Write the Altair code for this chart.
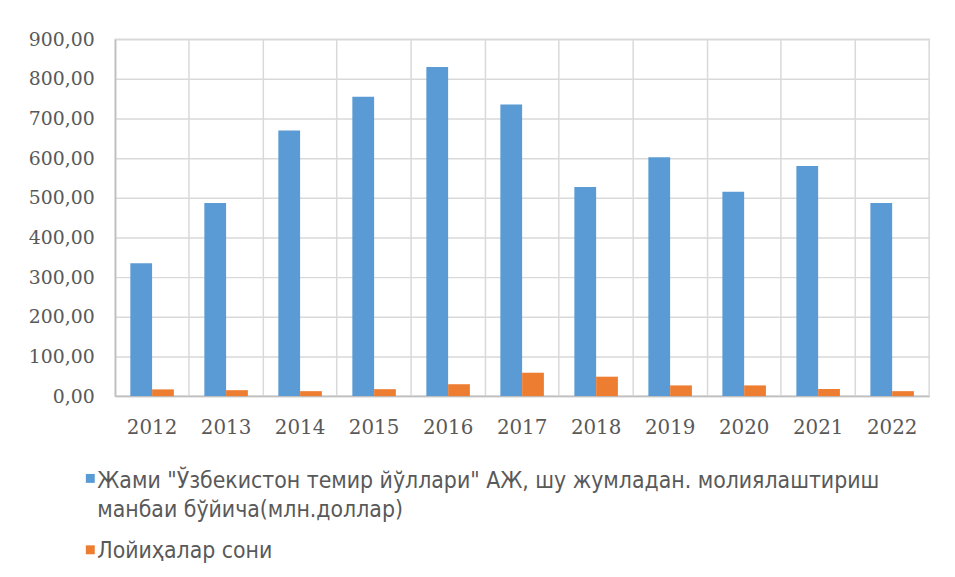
import altair as alt
import pandas as pd

years = ["2012", "2013", "2014", "2015", "2016", "2017", "2018", "2019", "2020", "2021", "2022"]
investment = [335, 487, 670, 755, 830, 735, 527, 602, 515, 580, 487]
projects = [17, 15, 12.5, 17.5, 30, 59, 49, 27, 27, 18, 12.5]
series_names = [
    "Жами \"Ўзбекистон темир йўллари\" АЖ, шу жумладан. молиялаштириш манбаи бўйича(млн.доллар)",
    "Лойиҳалар сони",
]
legend_line1 = "Жами \"Ўзбекистон темир йўллари\" АЖ, шу жумладан. молиялаштириш"
legend_line2 = "манбаи бўйича(млн.доллар)"
colors = ["#5b9bd5", "#ed7d31"]
y_ticks = [0, 100, 200, 300, 400, 500, 600, 700, 800, 900]

rows = []
for y, a, b in zip(years, investment, projects):
    rows.append({"year": y, "series": series_names[0], "value": a})
    rows.append({"year": y, "series": series_names[1], "value": b})
df = pd.DataFrame(rows)

TXT = "#595959"
GRID = "#d9d9d9"
TICK_FONT = "DejaVu Serif"
LEG_FONT = "Liberation Sans Narrow, DejaVu Sans Condensed, sans-serif"

color_scale = alt.Scale(domain=series_names, range=colors)

bars = alt.Chart(df).mark_bar().encode(
    x=alt.X("year:N", sort=years, title=None,
            scale=alt.Scale(paddingInner=0, paddingOuter=0),
            axis=alt.Axis(labelFont=TICK_FONT, labelFontSize=20, labelColor=TXT,
                          labelPadding=22, labelAngle=0, ticks=False,
                          domainColor="#bfbfbf", domainWidth=1.5,
                          grid=True, gridColor=GRID, gridWidth=1.5, bandPosition=0)),
    xOffset=alt.XOffset("series:N", sort=series_names,
                        scale=alt.Scale(domain=series_names, paddingInner=0, paddingOuter=0.7)),
    y=alt.Y("value:Q", title=None,
            scale=alt.Scale(domain=[0, 900], nice=False),
            axis=alt.Axis(values=y_ticks,
                          labelExpr="replace(format(datum.value, '.2f'), '.', ',')",
                          labelFont=TICK_FONT, labelFontSize=19, labelColor=TXT,
                          labelPadding=21, ticks=False,
                          domainColor="#bfbfbf", domainWidth=1.5,
                          grid=True, gridColor=GRID, gridWidth=1.5)),
    color=alt.Color("series:N", scale=color_scale, legend=None),
)

def leg_symbol(name, ypix):
    return alt.Chart(pd.DataFrame({"series": [name]})).mark_square(size=81, opacity=1).encode(
        x=alt.value(-25), y=alt.value(ypix),
        color=alt.Color("series:N", scale=color_scale, legend=None))

def leg_text(txt, ypix):
    return alt.Chart(pd.DataFrame({"t": [txt]})).mark_text(
        align="left", baseline="middle", font=LEG_FONT, fontSize=23, color=TXT
    ).encode(x=alt.value(-18), y=alt.value(ypix), text="t:N")

chart = alt.layer(
    bars,
    leg_symbol(series_names[0], 443),
    leg_text(legend_line1, 446),
    leg_text(legend_line2, 475),
    leg_symbol(series_names[1], 515),
    leg_text(series_names[1], 516),
).properties(
    width=821, height=360,
    autosize=alt.AutoSizeParams(type="none"),
    padding={"left": 108, "top": 29, "right": 18, "bottom": 180},
).configure_view(stroke=GRID, strokeWidth=1.5)

chart.save("out.html", embed_options={"renderer": "svg", "actions": False})
